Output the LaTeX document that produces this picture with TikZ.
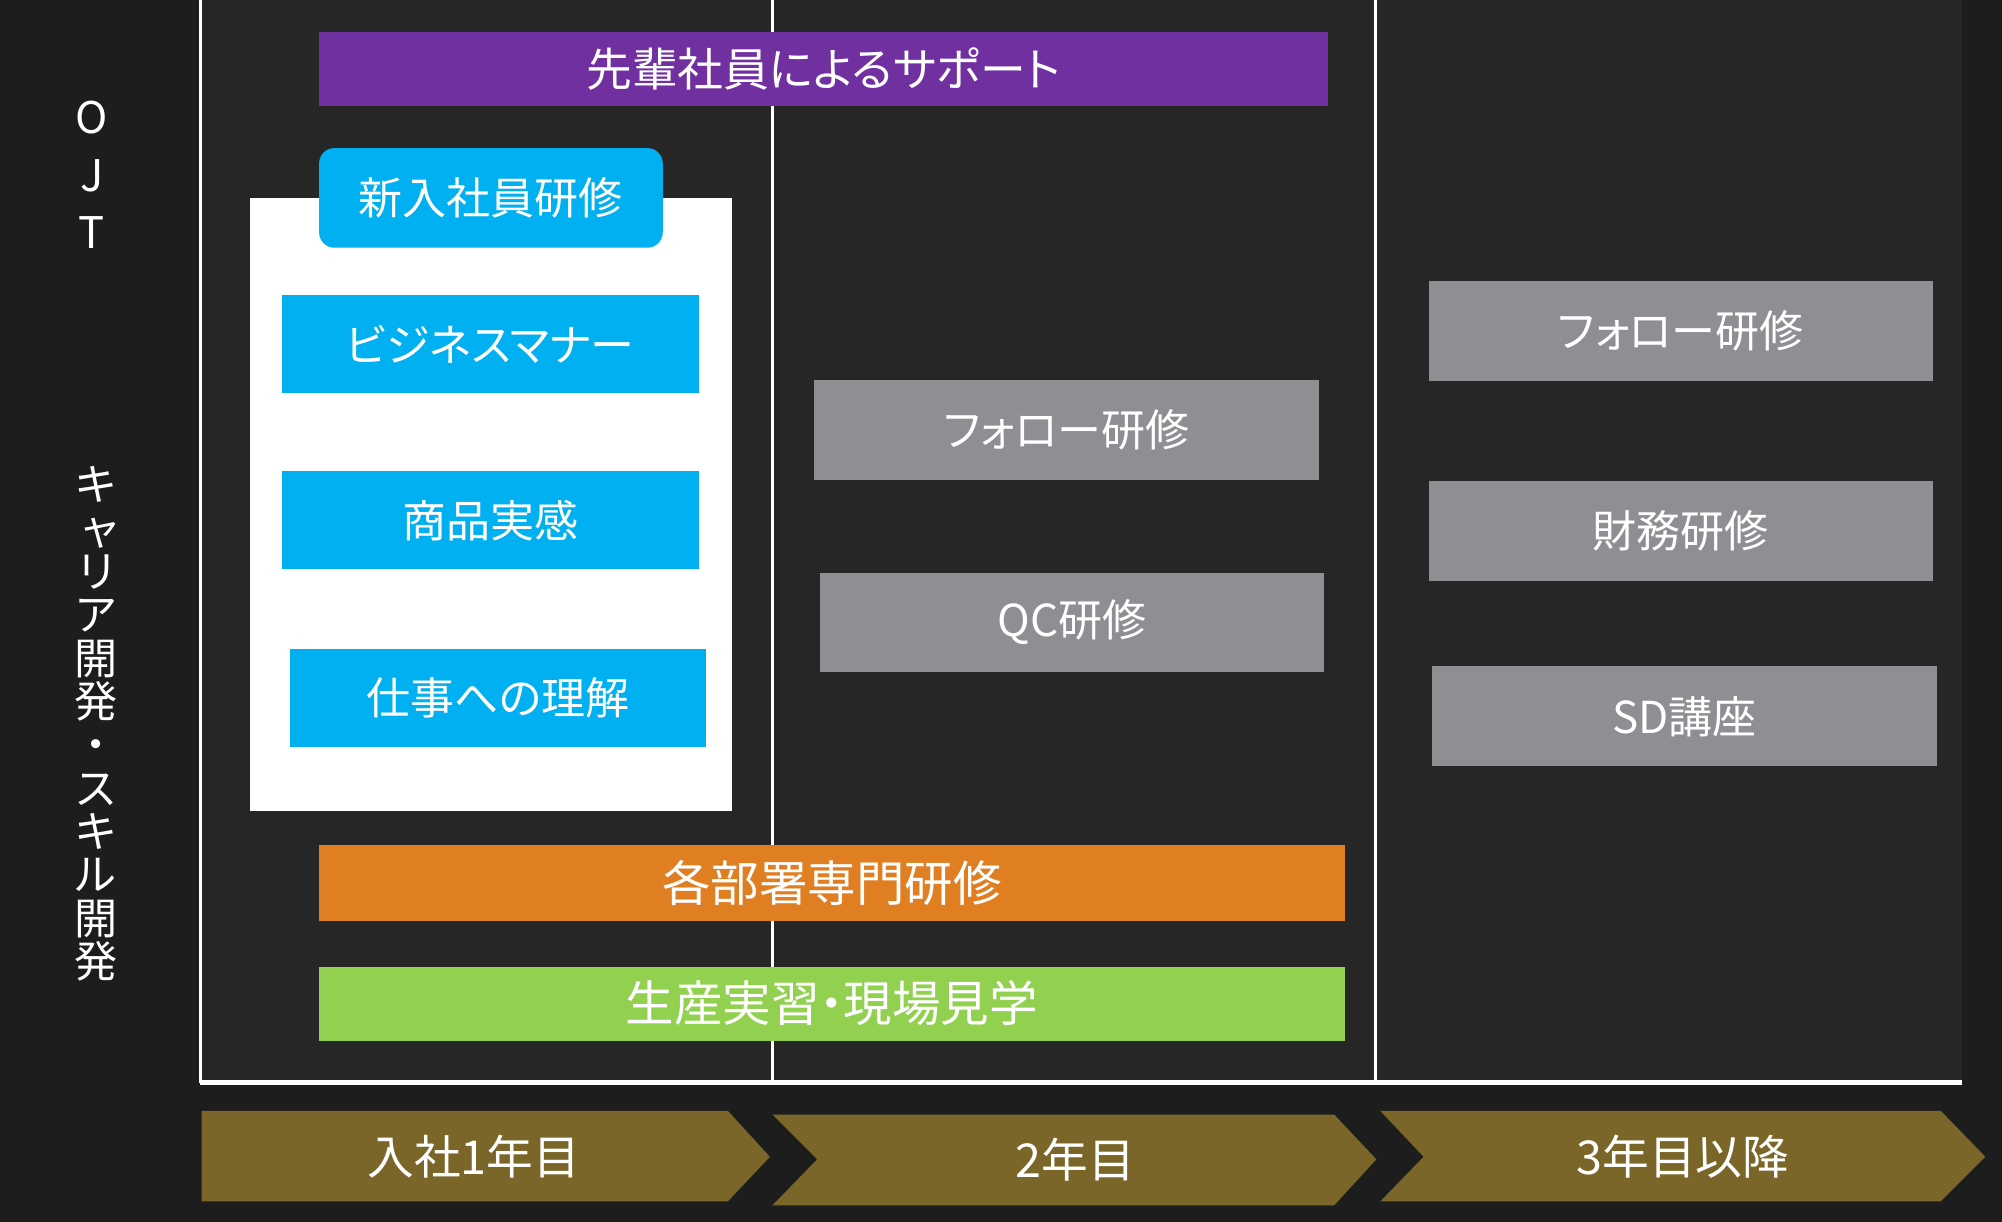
\documentclass[tikz,border=0pt]{standalone}
\usepackage{fontspec}
\setmainfont{Noto Sans CJK JP}[RawFeature=+palt]
\definecolor{slate}{HTML}{1D1D1D}
\definecolor{panel}{HTML}{262626}
\definecolor{cyanbox}{HTML}{00B0F0}
\definecolor{purplebar}{HTML}{7030A0}
\definecolor{orangebar}{HTML}{E07F22}
\definecolor{greenbar}{HTML}{92D050}
\definecolor{graybox}{HTML}{8E8F93}
\definecolor{olive}{HTML}{7A6628}

\begin{document}
\begin{tikzpicture}[x=0.01cm, y=-0.01cm,
    whitetext/.style={text=white, font=\fontsize{9.8}{11}\selectfont},
    tile/.style={whitetext, inner sep=0pt, fill=#1},
    course/.style={tile=cyanbox, minimum width=3.26cm, minimum height=0.77cm},
    follow/.style={tile=graybox, minimum width=3.95cm, minimum height=0.78cm},
    band/.style={tile=#1, minimum width=8.03cm, minimum height=0.59cm, font=\fontsize{10.8}{12}\selectfont},
    divider/.style={white, line width=0.7pt}]
  \useasboundingbox (0,0) rectangle (1568,957);

  % background and frame
  \fill[slate] (0,0) rectangle (1568,957);
  \fill[panel] (157,0) rectangle (1537,848);
  \draw[divider] (157,0) -- (157,848);
  \draw[divider] (605,0) -- (605,848);
  \draw[divider] (1077,0) -- (1077,848);
  \draw[divider, line width=1.2pt] (157,848) -- (1537,848);

  % row titles
  \node[whitetext, align=center, font=\fontsize{9.7}{12.8}\selectfont] (ojt) at (72,137) {O\\J\\T};
  \node[whitetext, align=center, font=\fontsize{9.6}{9.65}\selectfont] (career) at (75,567)
    {キ\\\hspace{0.2em}ャ\\リ\\ア\\開\\発\\・\\ス\\キ\\ル\\開\\発};

  % first year
  \node[tile=white, minimum width=3.77cm, minimum height=4.80cm] (intro) at (384.5,395) {};
  \node[course, minimum width=2.69cm, minimum height=0.78cm, rounded corners=0.12cm] (newhire) at (384.5,155) {新入社員研修};
  \node[course] (manner) at (384,269.5) {ビジネスマナー};
  \node[course] (product) at (384,407.5) {商品実感};
  \node[course] (work) at (390,546.5) {仕事への理解};

  \node[tile=purplebar, minimum width=7.9cm, minimum height=0.58cm, font=\fontsize{10.2}{12}\selectfont] (senpai) at (645,54) {先輩社員によるサポート};

  % second year and later
  \node[follow] (follow2) at (835.5,337) {フォロー研修};
  \node[follow] (qc) at (839.5,487.5) {QC研修};
  \node[follow] (follow3) at (1316.5,259) {フォロー研修};
  \node[follow] (finance) at (1316.5,416) {財務研修};
  \node[follow] (sd) at (1319.5,561) {SD講座};

  \node[band=orangebar] (dept) at (651.5,691.5) {各部署専門研修};
  \node[band=greenbar, minimum height=0.58cm] (factory) at (651.5,786) {生産実習・現場見学};

  % year arrows
  \fill[olive] (158,870) -- (570,870) -- (603,906) -- (570,941) -- (158,941) -- cycle;
  \fill[olive] (605,873) -- (1045,873) -- (1078,908) -- (1045,944) -- (605,944) -- (640,908) -- cycle;
  \fill[olive] (1081,870) -- (1520,870) -- (1555,906) -- (1520,941) -- (1081,941) -- (1115,906) -- cycle;
  \node[whitetext, font=\fontsize{10.4}{12}\selectfont] (year1) at (371,906) {入社1年目};
  \node[whitetext, font=\fontsize{10.4}{12}\selectfont] (year2) at (842,908) {2年目};
  \node[whitetext, font=\fontsize{10.4}{12}\selectfont] (year3) at (1318,906) {3年目以降};
\end{tikzpicture}
\end{document}
